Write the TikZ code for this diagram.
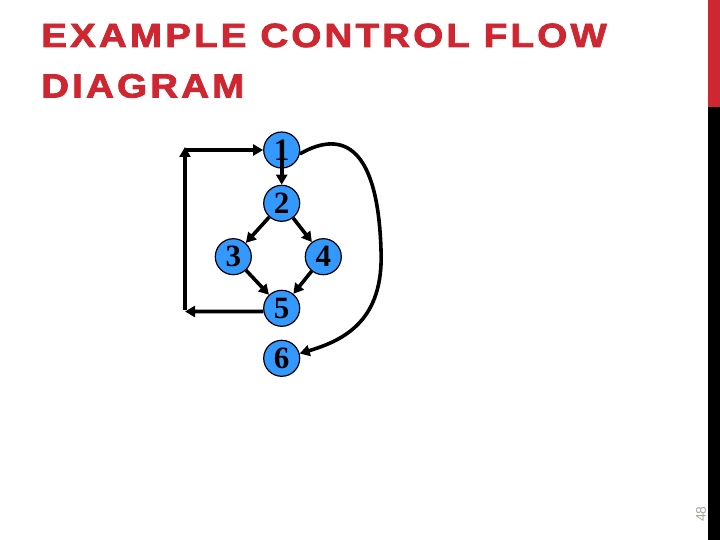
\documentclass[tikz,border=0pt]{standalone}
\usepackage{fontspec}
\setmainfont{Liberation Serif}
\newfontfamily\titlefont[LetterSpace=9.5,FakeStretch=1.15,FakeBold=2.5]{Liberation Sans}
\newfontfamily\pagefont{Liberation Sans}
\usetikzlibrary{arrows.meta}
\definecolor{titlered}{RGB}{206,39,50}
\definecolor{nodeblue}{RGB}{51,153,255}
\definecolor{pagegray}{RGB}{165,165,155}
\begin{document}
\begin{tikzpicture}[x=1pt,y=-1pt,
  cnode/.style={circle,draw=black,line width=1.2pt,fill=nodeblue,minimum size=36pt,inner sep=0pt,
    font=\fontsize{31}{31}\selectfont\bfseries},
  arr/.style={line width=3.6pt,-{Triangle[length=10pt,width=11pt]}},
  titletext/.style={anchor=base west,text=titlered,inner sep=0pt,
    font=\titlefont\bfseries\fontsize{33.5}{33.5}\selectfont}]
\useasboundingbox (0,0) rectangle (720,540);
% side bars
\fill[titlered] (708,0) rectangle (720,107);
\fill[black] (708,107) rectangle (720,540);
\node[rotate=90,text=pagegray,font=\pagefont\fontsize{14}{14}\selectfont,inner sep=0pt] (pg) at (701,514) {48};
% title
\node[titletext] (t1) at (41,47) {EXAMPLE CONTROL FLOW};
\node[titletext] (t2) at (41,97.5) {DIAGRAM};
% nodes
\node[cnode] (n1) at (281.7,150) {1};
\node[cnode] (n2) at (281.7,203.3) {2};
\node[cnode] (n3) at (233.3,256.7) {3};
\node[cnode] (n4) at (323.3,256.7) {4};
\node[cnode] (n5) at (281.7,308.3) {5};
\node[cnode] (n6) at (281.7,358.3) {6};
\coordinate (bl) at (185,311.5);
\coordinate (tl) at (185,147);
\coordinate (tlh) at (185,150);
\coordinate (cv) at (381,250);
% edges
\draw[arr] ([yshift=-6pt]n1.center) -- (n2);
\draw[arr] (n2) -- (n3);
\draw[arr] (n2) -- (n4);
\draw[arr] (n3) -- (n5);
\draw[arr] (n4) -- (n5);
\draw[arr] (n5.190) -- (bl);
\draw[arr] ([yshift=1.8pt]bl) -- (tl);
\draw[arr] (tlh) -- (n1);
\draw[arr] (n1.-12) .. controls (345,128) and (378,150) .. (cv)
  .. controls (384,320) and (345,340) .. (n6.15);
\end{tikzpicture}
\end{document}
